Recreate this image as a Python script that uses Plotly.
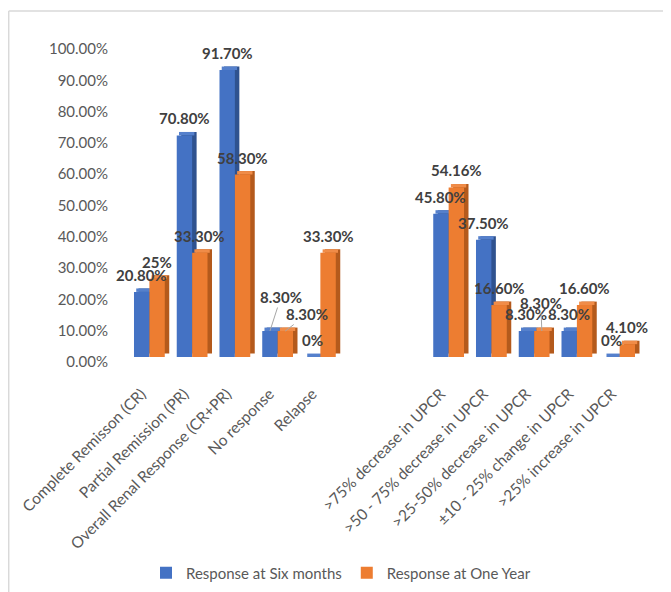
import plotly.graph_objects as go

# ---------------- data ----------------
categories = [
    "Complete Remisson (CR)",
    "Partial Remission (PR)",
    "Overall Renal Response (CR+PR)",
    "No response",
    "Relapse",
    "",
    "",
    ">75% decrease in UPCR",
    ">50 - 75% decrease in UPCR",
    ">25-50% decrease in UPCR",
    "±10 - 25% change in UPCR",
    ">25% increase in UPCR",
]
six_months = [20.8, 70.8, 91.7, 8.3, 0, None, None, 45.8, 37.5, 8.3, 8.3, 0]
one_year = [25, 33.3, 58.3, 8.3, 33.3, None, None, 54.16, 16.6, 8.3, 16.6, 4.1]
series_names = ["Response at Six months", "Response at One Year"]
y_ticks = [0, 10, 20, 30, 40, 50, 60, 70, 80, 90, 100]
y_tick_labels = [f"{t:.2f}%" for t in y_ticks]

# ---------------- style ----------------
FONT = "Lato"
W = 0.36      # bar width (category units)
DX = 0.105    # 3D depth, horizontal (category units)
DY = 1.1      # 3D depth, vertical (percent units)
LABEL_UP = 17  # px above bar top for data labels
front_cols = ["#4472C4", "#ED7D31"]
top_cols = ["#5580CC", "#F08C48"]
side_cols = ["#2F528F", "#B45A1C"]
# manual label displacements (series, index) -> (dx px, extra dy px)
label_moves = {(0, 3): (11, 17), (1, 3): (22, 0), (1, 9): (-1, 11)}

PAGE_OFF = 8  # browser default body margin
FIG_W, FIG_H = 671 - PAGE_OFF, 592 - PAGE_OFF
L_M, R_M, T_M, B_M = 120, 30, 36, 235
plot_w = FIG_W - L_M - R_M
plot_h = FIG_H - T_M - B_M


def px_x(px):
    """window pixel -> paper fraction"""
    return (px - PAGE_OFF - L_M) / plot_w


def px_y(py):
    return (FIG_H - B_M - (py - PAGE_OFF)) / plot_h


def fmt(v):
    if float(v).is_integer():
        return f"{v:.0f}%"
    return f"{v:.2f}%"


fig = go.Figure()
annotations = []
idx = list(range(len(categories)))

for s, vals in enumerate([six_months, one_year]):
    sign = -1 if s == 0 else 1
    valid = [(i, v) for i, v in zip(idx, vals) if v is not None]
    cx = [i + sign * W / 2 for i, _ in valid]
    vy = [v for _, v in valid]
    # side face (depth)
    fig.add_trace(go.Bar(
        x=[c + DX for c in cx], y=vy, base=[DY] * len(vy), width=W,
        marker=dict(color=side_cols[s], line=dict(width=0)),
        showlegend=False, hoverinfo="skip"))
    # top face
    fig.add_trace(go.Bar(
        x=[c + DX / 2 for c in cx], y=[DY] * len(vy), base=vy, width=W,
        marker=dict(color=top_cols[s], line=dict(width=0)),
        showlegend=False, hoverinfo="skip"))
    # front face
    fig.add_trace(go.Bar(
        x=cx, y=vy, width=W, name=series_names[s],
        marker=dict(color=front_cols[s], line=dict(width=0))))
    for (i, v), c in zip(valid, cx):
        mdx, mdy = label_moves.get((s, i), (0, 0))
        common = dict(x=c, y=v, text=fmt(v), xref="x", yref="y",
                      font=dict(family=FONT, size=15, color="#404040", weight="bold"))
        if (s, i) in label_moves:
            annotations.append(dict(**common, showarrow=True, ax=mdx,
                                    ay=-(LABEL_UP + mdy), arrowhead=0,
                                    arrowwidth=1, arrowcolor="#A6A6A6", standoff=0))
        else:
            annotations.append(dict(**common, showarrow=False,
                                    yshift=LABEL_UP, yanchor="middle"))

shapes = [
    dict(type="line", xref="paper", yref="paper",
         x0=px_x(8.7), x1=px_x(671), y0=px_y(11), y1=px_y(11),
         line=dict(color="#D9D9D9", width=1.5)),
    dict(type="line", xref="paper", yref="paper",
         x0=px_x(8.7), x1=px_x(8.7), y0=px_y(11), y1=px_y(592),
         line=dict(color="#D9D9D9", width=1.5)),
]

tick_idx = [i for i, c in enumerate(categories) if c]
fig.update_layout(
    width=FIG_W, height=FIG_H,
    margin=dict(l=L_M, r=R_M, t=T_M, b=B_M, autoexpand=False),
    paper_bgcolor="white", plot_bgcolor="white",
    barmode="overlay",
    font=dict(family=FONT, size=15, color="#595959"),
    xaxis=dict(range=[-0.5, len(categories) - 0.5],
               tickvals=tick_idx, ticktext=[categories[i] for i in tick_idx],
               tickangle=-45, showgrid=False, zeroline=False, showline=False,
               ticks="", ticklabelstandoff=24, ticklabelshift=-8, automargin=False,
               tickfont=dict(family=FONT, size=15.5, color="#595959")),
    yaxis=dict(range=[0, 100], tickvals=y_ticks, ticktext=y_tick_labels,
               showgrid=False, zeroline=False, showline=False, ticks="",
               ticklabelstandoff=19, ticklabelshift=5, automargin=False,
               tickfont=dict(family=FONT, size=15, color="#595959")),
    legend=dict(orientation="h", x=px_x(341), xanchor="center",
                y=px_y(573), yanchor="middle",
                font=dict(family=FONT, size=15, color="#595959")),
    annotations=annotations,
    shapes=shapes,
)

fig.write_html("out.html")
